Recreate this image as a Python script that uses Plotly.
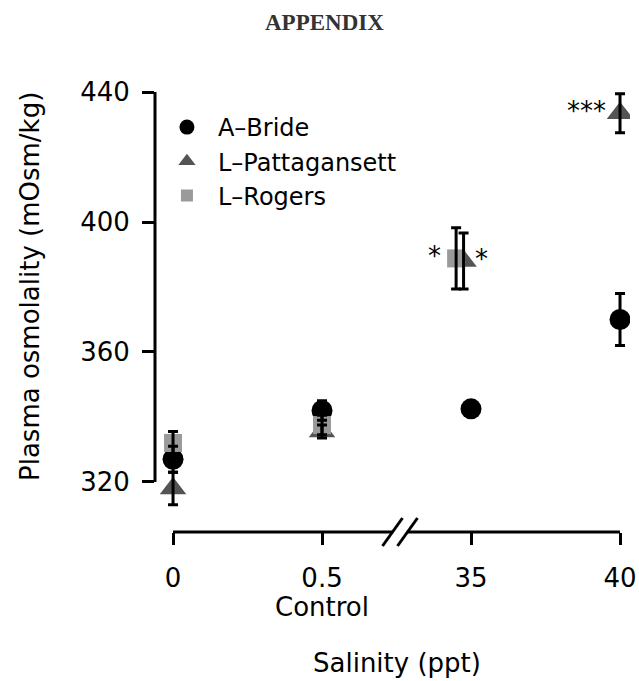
import plotly.graph_objects as go

# ---------------- data ----------------
salinity_labels = ["0", "0.5", "35", "40"]
salinity_sublabels = ["", "Control", "", ""]
salinity_index = [0, 1, 2, 3]

bride_mean = [327.0, 342.0, 342.5, 370.0]
bride_err = [4.0, 3.0, 1.0, 8.0]

patt_mean = [318.0, 335.5, 388.0, 433.5]
patt_err = [5.0, 2.0, 8.6, 6.0]

rogers_mean = [332.0, 337.5, 388.8, None]
rogers_err = [3.5, 3.0, 9.4, None]

# significance labels (series, category index, text)
sig_labels = [("rogers", 2, "*"), ("patt", 2, "*"), ("patt", 3, "***")]

y_ticks = [320, 360, 400, 440]

# ---------------- style / layout constants ----------------
FONT = "DejaVu Sans"
W, H = 639, 681
ML, MR, MT, MB = 155, 9, 80, 149
# horizontal dodge (in category units) used only where points overlap at 35 ppt
dodge = {"bride": [0, 0, 0, 0], "patt": [0, 0, -0.05, 0], "rogers": [0, 0, -0.10, 0]}

def xs(key):
    return [i + d for i, d in zip(salinity_index, dodge[key])]

series = [
    ("patt", "L\u2013Pattagansett", patt_mean, patt_err, "triangle-up", "#545454", 23, 15),
    ("bride", "A\u2013Bride", bride_mean, bride_err, "circle", "#000000", 21, 15),
    ("rogers", "L\u2013Rogers", rogers_mean, rogers_err, "square", "#9a9a9a", 18, 12),
]

fig = go.Figure()

for key, name, m, e, sym, col, size, _ in series:
    fig.add_trace(go.Scatter(x=xs(key), y=m, mode="markers", name=name, showlegend=False,
                             marker=dict(symbol=sym, color=col, size=size, line=dict(width=0))))
for key, name, m, e, sym, col, size, _ in series:
    fig.add_trace(go.Scatter(x=xs(key), y=m, mode="markers", showlegend=False,
                             marker=dict(size=1, opacity=0),
                             error_y=dict(type="data", array=e, visible=True, color="black",
                                          thickness=3, width=5)))
for key in ["bride", "patt", "rogers"]:
    s = [t for t in series if t[0] == key][0]
    fig.add_trace(go.Scatter(x=[None], y=[None], mode="markers", name=s[1],
                             marker=dict(symbol=s[4], color=s[5], size=s[7], line=dict(width=0))))

means = {"bride": bride_mean, "patt": patt_mean, "rogers": rogers_mean}
shifts = {("rogers", 2): -22, ("patt", 2): 18, ("patt", 3): -34}
annotations = []
for key, ci, txt in sig_labels:
    annotations.append(dict(x=xs(key)[ci], y=means[key][ci], xref="x", yref="y", text=txt,
                            showarrow=False, xshift=shifts[(key, ci)], yshift=2,
                            font=dict(family=FONT, size=26, color="black")))
for xi, sub in zip(salinity_index, salinity_sublabels):
    if sub:
        annotations.append(dict(x=xi, y=0, xref="x", yref="paper", text=sub, showarrow=False,
                                yshift=-(607 - (H - MB)), yanchor="middle",
                                font=dict(family=FONT, size=26, color="black")))

plot_w = W - ML - MR
plot_h = H - MT - MB
annotations += [
    dict(text="Plasma osmolality (mOsm/kg)", xref="paper", yref="paper", x=0, y=(H - MB - 287) / plot_h,
         xshift=30 - ML, textangle=-90, showarrow=False, xanchor="center", yanchor="middle",
         font=dict(family=FONT, size=26, color="black")),
    dict(text="Salinity (ppt)", xref="paper", yref="paper", x=(397 - ML) / plot_w, y=0, yshift=-131,
         showarrow=False, xanchor="center", yanchor="middle",
         font=dict(family=FONT, size=26, color="black")),
    dict(text="APPENDIX", xref="paper", yref="paper", x=(324 - ML) / plot_w, y=1, yshift=MT - 22,
         showarrow=False, xanchor="center", yanchor="middle",
         font=dict(family="Liberation Serif", size=23, color="#333333", weight="bold")),
]

brk = 1.52
shapes = [
    dict(type="line", xref="paper", yref="y", x0=0, x1=0, y0=y_ticks[0], y1=y_ticks[-1],
         line=dict(color="black", width=3)),
    dict(type="line", xref="x", yref="paper", x0=salinity_index[0], x1=brk, y0=0, y1=0,
         line=dict(color="black", width=3)),
    dict(type="line", xref="x", yref="paper", x0=brk, x1=salinity_index[-1], y0=0, y1=0,
         line=dict(color="black", width=3)),
    dict(type="rect", xref="x", yref="paper", xsizemode="pixel", ysizemode="pixel",
         xanchor=brk, yanchor=0, x0=-7, x1=8, y0=-3, y1=3, fillcolor="white", line=dict(width=0)),
    dict(type="line", xref="x", yref="paper", xsizemode="pixel", ysizemode="pixel",
         xanchor=brk, yanchor=0, x0=-17, x1=3, y0=-14, y1=14, line=dict(color="black", width=3)),
    dict(type="line", xref="x", yref="paper", xsizemode="pixel", ysizemode="pixel",
         xanchor=brk, yanchor=0, x0=-2, x1=18, y0=-14, y1=14, line=dict(color="black", width=3)),
]

fig.update_layout(
    width=W, height=H, margin=dict(l=ML, r=MR, t=MT, b=MB, autoexpand=False),
    paper_bgcolor="white", plot_bgcolor="white",
    font=dict(family=FONT, size=26, color="black"),
    xaxis=dict(range=[-0.121, 3.067], tickvals=salinity_index, ticktext=salinity_labels,
               showgrid=False, zeroline=False, showline=False, ticks="outside", ticklen=12,
               tickwidth=3, tickcolor="black", tickfont=dict(family=FONT, size=26),
               ticklabelstandoff=11, automargin=False),
    yaxis=dict(range=[304.6, 443.7], tickvals=y_ticks, showgrid=False, zeroline=False,
               showline=False, ticks="outside", ticklen=12, tickwidth=3, tickcolor="black",
               tickfont=dict(family=FONT, size=26), ticklabelstandoff=7, automargin=False),
    legend=dict(x=0.002, y=(H - MB - 105) / plot_h, xanchor="left", yanchor="top",
                font=dict(family=FONT, size=24), bgcolor="rgba(0,0,0,0)", itemwidth=52,
                tracegroupgap=0),
    shapes=shapes, annotations=annotations,
)

fig.write_html("out.html", config={"displayModeBar": False},
               post_script="document.body.style.margin='0';document.body.style.overflow='hidden';")
